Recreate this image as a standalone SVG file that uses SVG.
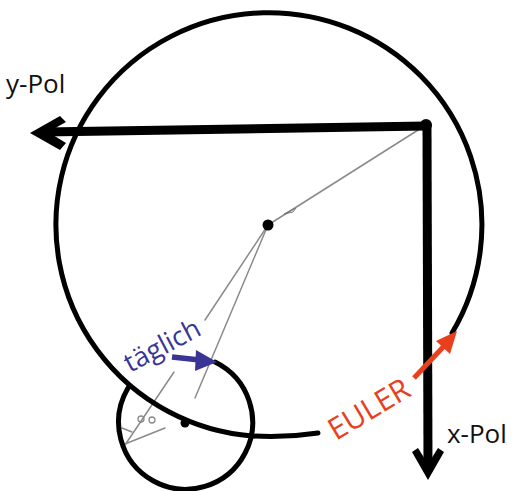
<svg xmlns="http://www.w3.org/2000/svg" width="520" height="491" viewBox="0 0 520 491">
<style>
.thin{stroke:#8a8a8a;stroke-width:1.5;fill:none;stroke-linecap:round}
.curve{stroke:#000;stroke-width:5;fill:none;stroke-linecap:round}
.axis{stroke:#000;stroke-width:9;fill:none}
.lbl{font-family:"Open Sans","Liberation Sans",sans-serif;font-size:26px;fill:#111}
</style>
<rect width="520" height="491" fill="#fff"/>
<g id="connectors">
  <line class="thin" x1="426" y1="125" x2="268" y2="225"/>
  <path d="M284,214 L296,208 L293,212 Z" fill="none" stroke="#777" stroke-width="1"/>
  <line class="thin" x1="268" y1="225" x2="205" y2="320"/>
  <line class="thin" x1="174" y1="372" x2="125" y2="445"/>
  <line class="thin" x1="268" y1="225" x2="195" y2="398"/>
  <line class="thin" x1="165" y1="428" x2="125" y2="444"/>
  <line class="thin" x1="122" y1="428" x2="132" y2="432"/>
  <circle cx="141" cy="419" r="3" fill="none" stroke="#8a8a8a" stroke-width="1.3"/>
  <circle cx="152" cy="420" r="3" fill="none" stroke="#8a8a8a" stroke-width="1.3"/>
</g>
<g id="big-orbit">
  <path class="curve" d="M452,333 A213,212 0 1 0 252,436 Q285,438 318,433"/>
</g>
<g id="small-circle">
  <path class="curve" d="M215,362 A67,67 0 1 1 128,388"/>
  <circle cx="185" cy="423" r="4.5" fill="#000"/>
</g>
<g id="center">
  <circle cx="268" cy="225" r="5.5" fill="#000"/>
</g>
<g id="y-pol">
  <line class="axis" x1="426" y1="126" x2="44" y2="132"/>
  <polygon points="30,133 60,116 66,122 48,132 66,143 60,150" fill="#000"/>
  <text class="lbl" x="6" y="93">y-Pol</text>
</g>
<g id="x-pol">
  <line class="axis" x1="427" y1="125" x2="428" y2="466"/>
  <polygon points="428,480 412,452 418,448 428,464 438,448 444,452" fill="#000"/>
  <circle cx="426" cy="125" r="6" fill="#000"/>
  <text class="lbl" x="447" y="443">x-Pol</text>
</g>
<g id="euler">
  <line x1="414" y1="378" x2="446" y2="344" stroke="#e8401c" stroke-width="5"/>
  <polygon points="457,331 436,341 450,354" fill="#e8401c"/>
  <text x="0" y="0" transform="translate(336,441) rotate(-31)" font-family="'Open Sans','Liberation Sans',sans-serif" font-size="30" fill="#e8401c">EULER</text>
</g>
<g id="taeglich">
  <line x1="172" y1="357" x2="200" y2="360" stroke="#3a3594" stroke-width="5.5"/>
  <polygon points="217,362 196,350 195,371" fill="#3a3594"/>
  <text x="0" y="0" transform="translate(130,373) rotate(-28)" font-family="'Open Sans','Liberation Sans',sans-serif" font-size="27" fill="#3a3594">täglich</text>
</g>
</svg>
